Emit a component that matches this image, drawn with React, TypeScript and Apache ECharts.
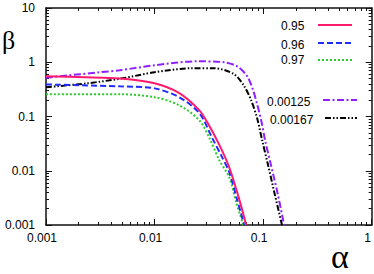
import { useEffect, useRef } from "react";
import * as echarts from "echarts";

const seriesNames = ["0.95", "0.96", "0.97", "0.00125", "0.00167"];
const seriesColors = ["#ff1a6e", "#1f2bff", "#2ecc2e", "#9020ff", "#000000"];

const alpha095 = [0.001, 0.0023, 0.0048, 0.01, 0.0169, 0.0259, 0.0306, 0.0395, 0.0487, 0.0602, 0.0698];
const beta095 = [0.55, 0.53, 0.5, 0.41, 0.27, 0.13, 0.078, 0.03, 0.0116, 0.003, 0.001];

const alpha096 = [0.001, 0.0048, 0.01, 0.0169, 0.0259, 0.034, 0.0412, 0.0487, 0.0577, 0.067];
const beta096 = [0.39, 0.36, 0.33, 0.226, 0.115, 0.04, 0.019, 0.0094, 0.0029, 0.001];

const alpha097 = [0.001, 0.0048, 0.01, 0.0169, 0.0259, 0.032, 0.0395, 0.0487, 0.0565, 0.0657];
const beta097 = [0.257, 0.257, 0.227, 0.161, 0.085, 0.04, 0.0156, 0.0076, 0.0026, 0.001];

const alpha125 = [0.001, 0.00313, 0.00478, 0.01, 0.0243, 0.0439, 0.0577, 0.0713, 0.0809, 0.0881, 0.096, 0.1043, 0.1183, 0.1374, 0.156];
const beta125 = [0.52, 0.654, 0.712, 0.88, 1.04, 1.0, 0.84, 0.552, 0.305, 0.168, 0.0854, 0.0365, 0.0126, 0.0035, 0.001];

const alpha167 = [0.001, 0.00243, 0.00508, 0.01, 0.0223, 0.0355, 0.0542, 0.067, 0.0776, 0.0881, 0.098, 0.1112, 0.1288, 0.1493];
const beta167 = [0.346, 0.41, 0.507, 0.654, 0.775, 0.775, 0.6, 0.361, 0.199, 0.093, 0.0365, 0.0126, 0.0035, 0.001];

const xTickValues = [0.001, 0.01, 0.1, 1];
const xTickLabels = ["0.001", "0.01", "0.1", "1"];
const yTickValues = [0.001, 0.01, 0.1, 1, 10];
const yTickLabels = ["0.001", "0.01", "0.1", "1", "10"];
const minorMultipliers = [2, 3, 4, 5, 6, 7, 8, 9];

const dashes: (number[] | "solid")[] = ["solid", [6, 3], [2, 2], [7, 2.5, 2, 2.5], [6, 2, 1.5, 2, 1.5, 2]];

function minorTicks(major: number[]) {
  const out: number[] = [];
  for (let i = 0; i < major.length - 1; i++) {
    for (const m of minorMultipliers) out.push(Number((major[i] * m).toPrecision(6)));
  }
  return out;
}

function labelFor(values: number[], labels: string[]) {
  return (v: number) => {
    for (let i = 0; i < values.length; i++) {
      if (Math.abs(Math.log10(v) - Math.log10(values[i])) < 1e-6) return labels[i];
    }
    return "";
  };
}

const FONT = "'Liberation Sans', Arial, sans-serif";
const SERIF = "'Liberation Serif', 'DejaVu Serif', serif";
const AXIS_COLOR = "#111";

export default function App() {
  const ref = useRef<HTMLDivElement>(null);

  useEffect(() => {
    if (!ref.current) return;
    const chart = echarts.init(ref.current, undefined, { renderer: "svg" });

    const xMinor = minorTicks(xTickValues);
    const yMinor = minorTicks(yTickValues);

    const mkX = (position: "bottom" | "top", minor: boolean, labels: boolean) => ({
      type: "log",
      logBase: 10,
      min: xTickValues[0],
      max: xTickValues[xTickValues.length - 1],
      position,
      axisLine: { show: !minor, onZero: false, lineStyle: { color: AXIS_COLOR, width: 1.5 } },
      axisTick: {
        show: true,
        inside: true,
        length: minor ? 3 : 6,
        customValues: minor ? xMinor : xTickValues,
        lineStyle: { color: AXIS_COLOR, width: 1 },
      },
      axisLabel: {
        show: labels,
        customValues: xTickValues,
        formatter: labelFor(xTickValues, xTickLabels),
        fontSize: 12,
        fontFamily: FONT,
        color: "#000",
        margin: 7,
        padding: [0, 8, 0, 0],
      },
      splitLine: { show: false },
      minorTick: { show: false },
    });

    const mkY = (position: "left" | "right", minor: boolean, labels: boolean) => ({
      type: "log",
      logBase: 10,
      min: yTickValues[0],
      max: yTickValues[yTickValues.length - 1],
      position,
      axisLine: { show: !minor, onZero: false, lineStyle: { color: AXIS_COLOR, width: 1.5 } },
      axisTick: {
        show: true,
        inside: true,
        length: minor ? 3 : 6,
        customValues: minor ? yMinor : yTickValues,
        lineStyle: { color: AXIS_COLOR, width: 1 },
      },
      axisLabel: {
        show: labels,
        customValues: yTickValues,
        formatter: labelFor(yTickValues, yTickLabels),
        fontSize: 12,
        fontFamily: FONT,
        color: "#000",
        margin: 11,
        padding: [0, 0, 4, 0],
      },
      splitLine: { show: false },
      minorTick: { show: false },
    });

    const alphas = [alpha095, alpha096, alpha097, alpha125, alpha167];
    const betas = [beta095, beta096, beta097, beta125, beta167];

    const series = seriesNames.map((name, k) => ({
      type: "line",
      name,
      xAxisIndex: 0,
      yAxisIndex: 0,
      data: alphas[k].map((a, i) => [a, betas[k][i]]),
      smooth: 0.3,
      symbol: "none",
      showSymbol: false,
      clip: true,
      lineStyle: { color: seriesColors[k], width: 2, type: dashes[k] },
      z: 10 - k,
    }));

    const legendPos = [
      { tx: 281, ty: 26, x1: 318, x2: 352, ly: 25 },
      { tx: 281, ty: 45, x1: 318, x2: 352, ly: 43 },
      { tx: 281, ty: 60, x1: 318, x2: 352, ly: 60 },
      { tx: 267, ty: 102, x1: 323, x2: 357, ly: 100 },
      { tx: 270, ty: 120, x1: 325, x2: 357, ly: 118 },
    ];

    const graphic: any[] = [];
    seriesNames.forEach((name, k) => {
      const p = legendPos[k];
      graphic.push({
        type: "text",
        x: p.tx,
        y: p.ty,
        style: { text: name, fontSize: 12, fontFamily: FONT, fill: "#000", verticalAlign: "middle", align: "left" },
      });
      graphic.push({
        type: "line",
        shape: { x1: p.x1, y1: p.ly, x2: p.x2, y2: p.ly },
        style: {
          stroke: seriesColors[k],
          lineWidth: 2,
          lineDash: dashes[k] === "solid" ? null : dashes[k],
        },
      });
    });
    graphic.push({
      type: "text",
      x: 2,
      y: 40,
      style: { text: "β", fontSize: 26, fontFamily: SERIF, fill: "#000", verticalAlign: "middle", align: "left" },
    });
    graphic.push({
      type: "text",
      x: 340,
      y: 256,
      style: { text: "α", fontSize: 34, fontFamily: SERIF, fill: "#000", verticalAlign: "middle", align: "center" },
    });

    chart.setOption({
      animation: false,
      backgroundColor: "#ffffff",
      grid: { left: 46, right: 1, top: 8, bottom: 49, containLabel: false },
      xAxis: [mkX("bottom", false, true), mkX("bottom", true, false), mkX("top", false, false), mkX("top", true, false)],
      yAxis: [mkY("left", false, true), mkY("left", true, false), mkY("right", false, false), mkY("right", true, false)],
      series,
      graphic,
    } as any);

    return () => chart.dispose();
  }, []);

  return (
    <div
      ref={ref}
      style={{ position: "absolute", left: 0, top: 0, width: 374, height: 274, background: "#fff" }}
    />
  );
}
